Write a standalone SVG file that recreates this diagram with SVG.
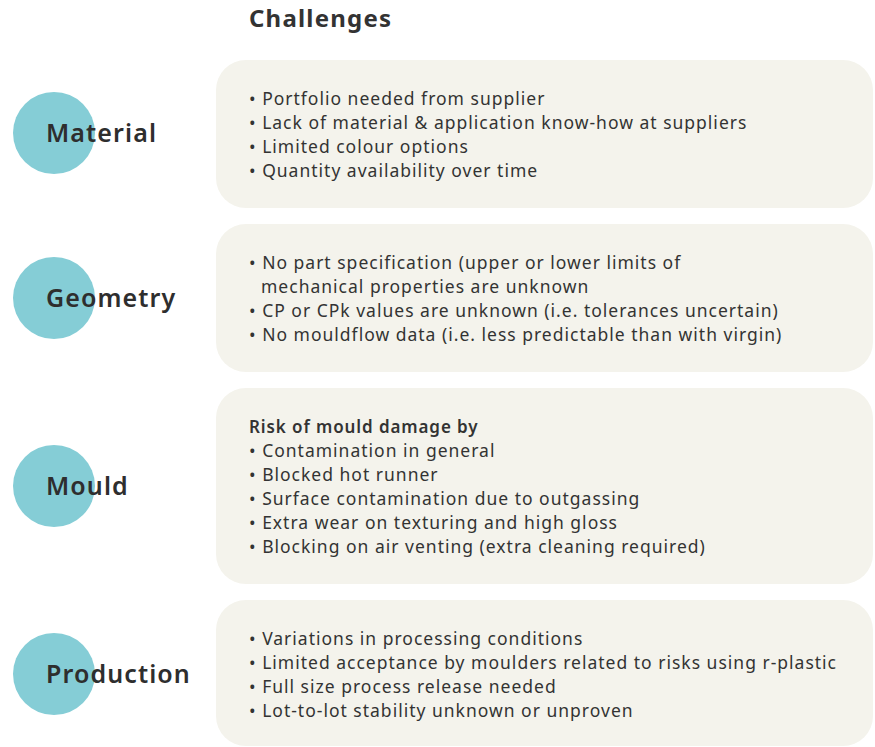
<svg xmlns="http://www.w3.org/2000/svg" width="875" height="747" viewBox="0 0 875 747">
<style>
.box{fill:#f4f3ec}
.dot{fill:#85cdd6}
.lbl{font-family:"Noto Sans",sans-serif;font-size:25px;font-weight:600;fill:#2e2e2e;letter-spacing:1.1px}
.t{font-family:"Noto Sans",sans-serif;font-size:17.5px;fill:#333;letter-spacing:1px}
.b{font-family:"Noto Sans",sans-serif;font-size:17px;font-weight:600;fill:#333;letter-spacing:0.9px}
.title{font-family:"Noto Sans",sans-serif;font-size:24px;font-weight:700;fill:#333;letter-spacing:1.2px}
</style>
<rect width="875" height="747" fill="#fff"/>
<text class="title" x="249" y="27">Challenges</text>
<g id="material">
<rect class="box" x="216" y="60" width="657" height="148" rx="30"/>
<circle class="dot" cx="54" cy="133" r="41"/>
<text class="lbl" x="46" y="142">Material</text>
<text class="t" x="249" y="105">• Portfolio needed from supplier</text>
<text class="t" x="249" y="129">• Lack of material &amp; application know-how at suppliers</text>
<text class="t" x="249" y="153">• Limited colour options</text>
<text class="t" x="249" y="177">• Quantity availability over time</text>
</g>
<g id="geometry">
<rect class="box" x="216" y="224" width="657" height="148" rx="30"/>
<circle class="dot" cx="54" cy="298" r="41"/>
<text class="lbl" x="46" y="307">Geometry</text>
<text class="t" x="249" y="269">• No part specification (upper or lower limits of</text>
<text class="t" x="261" y="293">mechanical properties are unknown</text>
<text class="t" x="249" y="317">• CP or CPk values are unknown (i.e. tolerances uncertain)</text>
<text class="t" x="249" y="341">• No mouldflow data (i.e. less predictable than with virgin)</text>
</g>
<g id="mould">
<rect class="box" x="216" y="388" width="657" height="196" rx="30"/>
<circle class="dot" cx="54" cy="486" r="41"/>
<text class="lbl" x="46" y="495">Mould</text>
<text class="b" x="249" y="433">Risk of mould damage by</text>
<text class="t" x="249" y="457">• Contamination in general</text>
<text class="t" x="249" y="481">• Blocked hot runner</text>
<text class="t" x="249" y="505">• Surface contamination due to outgassing</text>
<text class="t" x="249" y="529">• Extra wear on texturing and high gloss</text>
<text class="t" x="249" y="553">• Blocking on air venting (extra cleaning required)</text>
</g>
<g id="production">
<rect class="box" x="216" y="600" width="657" height="146" rx="30"/>
<circle class="dot" cx="54" cy="674" r="41"/>
<text class="lbl" x="46" y="683">Production</text>
<text class="t" x="249" y="645">• Variations in processing conditions</text>
<text class="t" x="249" y="669">• Limited acceptance by moulders related to risks using r-plastic</text>
<text class="t" x="249" y="693">• Full size process release needed</text>
<text class="t" x="249" y="717">• Lot-to-lot stability unknown or unproven</text>
</g>
<g id="connectors"/>
</svg>
